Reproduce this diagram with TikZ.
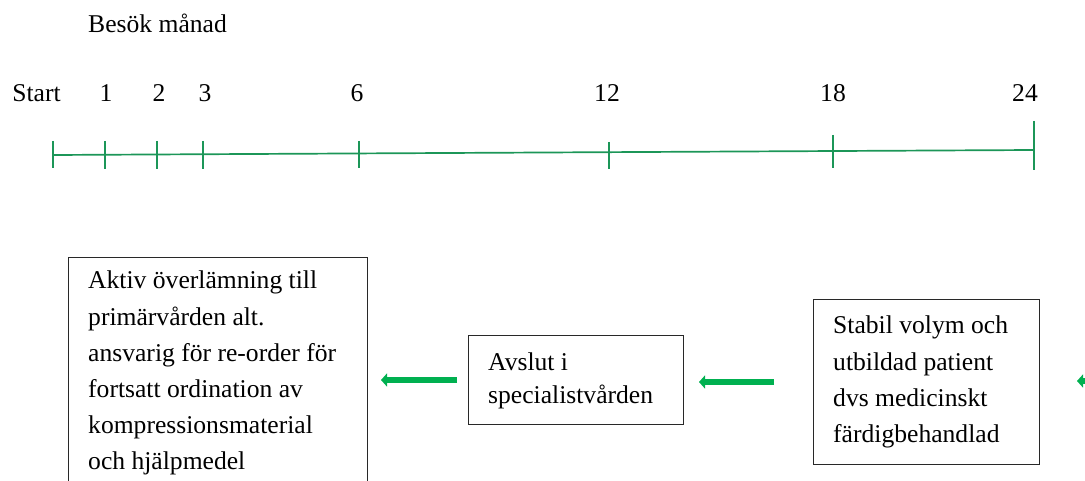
\documentclass[tikz,border=0pt]{standalone}
\usepackage{fontspec}
\setmainfont{Liberation Serif}
\usetikzlibrary{arrows.meta}
\definecolor{tlgreen}{RGB}{28,150,88}
\definecolor{argreen}{RGB}{0,176,80}
\definecolor{boxline}{RGB}{40,40,40}
\begin{document}
\begin{tikzpicture}[x=1pt,y=-1pt,
  txt/.style={inner sep=0pt,anchor=base west,font=\fontsize{25.6}{30}\selectfont},
  lbl/.style={inner sep=0pt,anchor=base,font=\fontsize{25.6}{30}\selectfont},
  box/.style={draw=boxline,line width=1pt,inner sep=0pt},
  tl/.style={draw=tlgreen,line width=1.7pt},
  arr/.style={draw=argreen,line width=6pt,-{Triangle[length=6pt,width=13pt]}}]
\useasboundingbox (0,0) rectangle (1085,481);
\clip (0,0) rectangle (1085,481);
% heading
\node[txt] (head) at (88,33) {Besök månad};
% timeline
\coordinate (t0) at (53,155);
\coordinate (t7) at (1034,150);
\draw[tl] (t0) -- (t7);
\foreach \x/\a/\b in {53/141/168,105/141/169,157/141/169,203/141/169,359/141/168,609/142/169,833/135/168,1034/121/170}
  \draw[tl] (\x,\a) -- (\x,\b);
\node[lbl] (lstart) at (36.5,102) {Start};
\node[lbl] (l1) at (106,102) {1};
\node[lbl] (l2) at (159,102) {2};
\node[lbl] (l3) at (205,102) {3};
\node[lbl] (l6) at (357,102) {6};
\node[lbl] (l12) at (607,102) {12};
\node[lbl] (l18) at (833,102) {18};
\node[lbl] (l24) at (1025,102) {24};
% boxes
\node[box,anchor=north west,minimum width=299pt,minimum height=250pt] (left) at (68,257) {};
\node[box,anchor=north west,minimum width=215pt,minimum height=89pt] (mid) at (468,335) {};
\node[box,anchor=north west,minimum width=226pt,minimum height=165pt] (right) at (813,299) {};
% left text
\node[txt] (a1) at (88,289) {Aktiv överlämning till};
\node[txt] (a2) at (88,325) {primärvården alt.};
\node[txt] (a3) at (88,361) {ansvarig för re-order för};
\node[txt] (a4) at (88,397) {fortsatt ordination av};
\node[txt] (a5) at (88,433) {kompressionsmaterial};
\node[txt] (a6) at (88,469) {och hjälpmedel};
% middle text
\node[txt] (m1) at (488,370) {Avslut i};
\node[txt] (m2) at (488,403) {specialistvården};
% right text
\node[txt] (r1) at (833,334) {Stabil volym och};
\node[txt] (r2) at (833,370) {utbildad patient};
\node[txt] (r3) at (833,406) {dvs medicinskt};
\node[txt] (r4) at (833,442) {färdigbehandlad};
% arrows
\draw[arr,shorten <=11pt,shorten >=13pt] (mid.west) -- (mid.west -| left.east);
\coordinate (offr) at (1160,381);
\draw[arr,shorten <=39pt,shorten >=15pt] (right.west) -- (right.west -| mid.east);
\draw[arr,shorten >=37pt] (offr) -- (offr -| right.east);
\end{tikzpicture}
\end{document}
